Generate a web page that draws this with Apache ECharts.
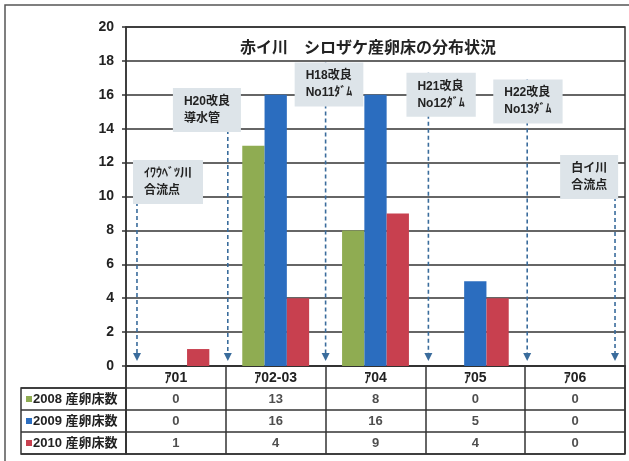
<!DOCTYPE html>
<html>
<head>
<meta charset="utf-8">
<script src="https://cdn.jsdelivr.net/npm/echarts@6/dist/echarts.min.js"></script>
<style>
html,body{margin:0;padding:0;background:#fff;}
#c{width:629px;height:461px;}
</style>
</head>
<body>
<div id="c"></div>
<script>
// ---- data ----
const categories = ['ｱ01', 'ｱ02-03', 'ｱ04', 'ｱ05', 'ｱ06'];
const seriesNames = ['2008 産卵床数', '2009 産卵床数', '2010 産卵床数'];
const values2008 = [0, 13, 8, 0, 0];
const values2009 = [0, 16, 16, 5, 0];
const values2010 = [1, 4, 9, 4, 0];
const titleText = '赤イ川　シロザケ産卵床の分布状況';
const yMin = 0, yMax = 20, yStep = 2;

// annotations (river features) in category units along the river / value units
const annotationTexts = ['ｲﾜｳﾍﾞﾂ川\n合流点', 'H20改良\n導水管', 'H18改良\nNo11ﾀﾞﾑ', 'H21改良\nNo12ﾀﾞﾑ', 'H22改良\nNo13ﾀﾞﾑ', '白イ川\n合流点'];
const annotationAt = [-0.39, 0.52, 1.50, 2.53, 3.52, 4.40];
const annotationBoxLeft = [-0.43, -0.03, 1.19, 2.31, 3.18, 3.85];
const annotationBoxTop = [12.15, 16.4, 17.9, 17.3, 16.9, 12.45];

// ---- build ----
const allValues = [values2008, values2009, values2010];
const colors = ['#8fac52', '#2b6dbf', '#c8404f'];
const FONT = "'Liberation Sans','Noto Sans CJK JP',sans-serif";
const LINE = '#333';

const chart = echarts.init(document.getElementById('c'), null, {renderer: 'canvas'});

const barSeries = seriesNames.map((n, i) => ({
  name: n, type: 'bar', xAxisIndex: 0, yAxisIndex: 0,
  data: allValues[i],
  barGap: '0%', barCategoryGap: '33%',
  itemStyle: {color: colors[i]},
  z: 3
}));

const tableData = [];
allValues.forEach((vals, s) => vals.forEach((v, c) => tableData.push([c, s + 1, v])));

const option = {
  backgroundColor: '#fff',
  animation: false,
  title: {
    text: titleText, left: 363, top: 36, textAlign: 'center',
    textStyle: {fontFamily: FONT, fontSize: 16, fontWeight: 'bold', color: '#222'}
  },
  graphic: [{
    type: 'rect', shape: {x: 5, y: 5, width: 700, height: 600},
    style: {fill: 'none', stroke: '#555', lineWidth: 1.5}, silent: true
  }],
  grid: [
    {left: 126, right: 4, top: 27, bottom: 95, show: true, borderColor: LINE, borderWidth: 1.5, backgroundColor: 'transparent'},
    {left: 126, right: 4, top: 366, height: 88, show: true, borderColor: LINE, borderWidth: 1.5},
    {left: 21, width: 105, top: 388, height: 66, show: true, borderColor: LINE, borderWidth: 1.5}
  ],
  xAxis: [
    {gridIndex: 0, type: 'category', data: categories,
     axisLine: {show: true, onZero: false, lineStyle: {color: LINE, width: 1.5}},
     axisTick: {show: false},
     axisLabel: {margin: 5, fontFamily: FONT, fontSize: 14, fontWeight: 'bold', color: '#222'}},
    {gridIndex: 0, type: 'value', min: -0.5, max: 4.5, show: false},
    {gridIndex: 1, type: 'category', data: categories,
     axisLine: {show: false}, axisTick: {show: false}, axisLabel: {show: false},
     splitLine: {show: true, lineStyle: {color: LINE, width: 1.5}}},
    {gridIndex: 2, type: 'category', data: [''],
     axisLine: {show: false}, axisTick: {show: false}, axisLabel: {show: false}}
  ],
  yAxis: [
    {gridIndex: 0, type: 'value', min: yMin, max: yMax, interval: yStep,
     axisLine: {show: true, onZero: false, lineStyle: {color: LINE, width: 1.5}},
     axisTick: {show: true, length: 4, lineStyle: {color: LINE, width: 1.5}},
     axisLabel: {margin: 12, fontFamily: FONT, fontSize: 14, fontWeight: 'bold', color: '#222'},
     splitLine: {show: true, lineStyle: {color: LINE, width: 1.5}}},
    {gridIndex: 1, type: 'category', data: ['', '2008', '2009', '2010'], inverse: true,
     axisLine: {show: false}, axisTick: {show: false}, axisLabel: {show: false},
     splitLine: {show: true, lineStyle: {color: LINE, width: 1.5}}},
    {gridIndex: 2, type: 'category', data: seriesNames, inverse: true,
     axisLine: {show: false}, axisTick: {show: false},
     axisLabel: {
       inside: true, margin: 5,
       formatter: (v, i) => '{s' + i + '|}{t|' + v + '}',
       rich: {
         s0: {width: 6, height: 6, backgroundColor: colors[0]},
         s1: {width: 6, height: 6, backgroundColor: colors[1]},
         s2: {width: 6, height: 6, backgroundColor: colors[2]},
         t: {fontFamily: FONT, fontSize: 13, fontWeight: 'bold', color: '#222', padding: [0, 0, 0, 1]}
       }
     },
     splitLine: {show: true, lineStyle: {color: LINE, width: 1.5}}}
  ],
  series: [
    ...barSeries,
    {
      type: 'custom', xAxisIndex: 1, yAxisIndex: 0, z: 6,
      data: annotationAt.map((a, i) => [a, annotationBoxLeft[i], annotationBoxTop[i]]),
      renderItem: function (params, api) {
        const i = params.dataIndex;
        const top = api.coord([api.value(0), api.value(2)]);
        const end = api.coord([api.value(0), 0.3]);
        const box = api.coord([api.value(1), api.value(2)]);
        const ac = '#3a6c9c';
        return {
          type: 'group',
          children: [
            {type: 'line', shape: {x1: top[0], y1: top[1], x2: end[0], y2: end[1] - 7},
             style: {stroke: ac, lineWidth: 1.6, lineDash: [4, 3]}},
            {type: 'polygon', shape: {points: [[end[0] - 4, end[1] - 8], [end[0] + 4, end[1] - 8], [end[0], end[1]]]},
             style: {fill: ac}},
            {type: 'text', x: box[0], y: box[1], z2: 20,
             style: {text: annotationTexts[i], font: 'bold 12px ' + FONT, fill: '#222',
                     backgroundColor: '#dde4e9', padding: [5, 11, 5, 11], lineHeight: 17,
                     align: 'left', verticalAlign: 'top'}}
          ]
        };
      }
    },
    {
      type: 'scatter', xAxisIndex: 2, yAxisIndex: 1, symbolSize: 1,
      itemStyle: {color: 'transparent'},
      data: tableData,
      label: {show: true, position: 'inside', formatter: p => String(p.value[2]),
              fontFamily: FONT, fontSize: 13, fontWeight: 'bold', color: '#222'}
    }
  ]
};
chart.setOption(option);
</script>
</body>
</html>
